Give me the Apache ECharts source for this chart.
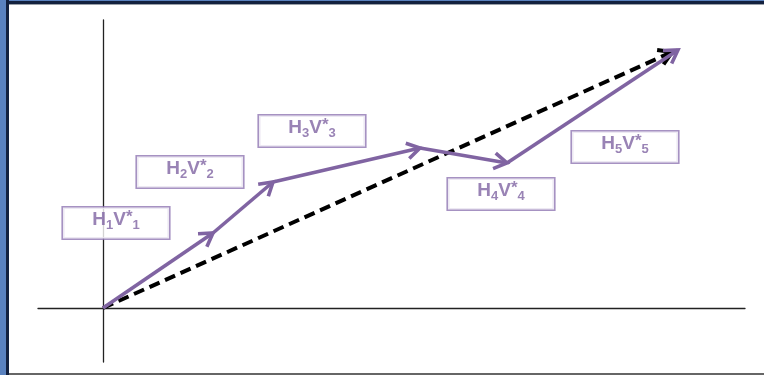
<!DOCTYPE html>
<html>
<head>
<meta charset="utf-8">
<script src="https://cdn.jsdelivr.net/npm/echarts@6/dist/echarts.min.js"></script>
<style>
  html, body { margin: 0; padding: 0; background: #fff; }
  #chart { width: 764px; height: 375px; }
</style>
</head>
<body>
<div id="chart"></div>
<script>
// path of the added vectors (origin first), units = px offsets from origin
const pathX = [0, 110, 170, 317, 404, 575];
const pathY = [0, 75, 126, 160, 145, 258];
// resultant (dashed) vector
const resultX = [0, 569];
const resultY = [0, 256];
// label boxes
const labelIdx = ['1', '2', '3', '4', '5'];
const labelX = [13, 87, 209, 398, 522];
const labelY = [85, 136, 177, 114, 161];

const purple = '#8064a2';

let segs = [];
for (let i = 0; i < pathX.length - 1; i++) {
  segs.push([pathX[i], pathY[i], pathX[i + 1], pathY[i + 1]]);
}

function arrowRender(color, width, dash) {
  return function (params, api) {
    const a = api.coord([api.value(0), api.value(1)]);
    const b = api.coord([api.value(2), api.value(3)]);
    const ang = Math.atan2(b[1] - a[1], b[0] - a[0]);
    const L = 15, spread = 0.55;
    const p1 = [b[0] - L * Math.cos(ang - spread), b[1] - L * Math.sin(ang - spread)];
    const p2 = [b[0] - L * Math.cos(ang + spread), b[1] - L * Math.sin(ang + spread)];
    return {
      type: 'group',
      children: [
        {
          type: 'line',
          shape: { x1: a[0], y1: a[1], x2: b[0], y2: b[1] },
          style: { stroke: color, lineWidth: width, lineDash: dash }
        },
        {
          type: 'polyline',
          shape: { points: [p1, b, p2] },
          style: { stroke: color, lineWidth: width, fill: null, lineJoin: 'miter' }
        }
      ]
    };
  };
}

const chart = echarts.init(document.getElementById('chart'));
chart.setOption({
  animation: false,
  backgroundColor: '#fff',
  grid: { left: 38, right: 19, top: 20, bottom: 13 },
  xAxis: {
    type: 'value', min: -65, max: 642,
    axisLine: { onZero: true, lineStyle: { color: '#222', width: 1.3 } },
    axisTick: { show: false }, axisLabel: { show: false }, splitLine: { show: false }
  },
  yAxis: {
    type: 'value', min: -54, max: 288,
    axisLine: { show: true, onZero: true, lineStyle: { color: '#222', width: 1.3 } },
    axisTick: { show: false }, axisLabel: { show: false }, splitLine: { show: false }
  },
  graphic: [
    { type: 'rect', shape: { x: 0, y: 0, width: 764, height: 5 }, style: { fill: '#13213f' }, z: 100 },
    { type: 'rect', shape: { x: 0, y: 0, width: 764, height: 1 }, style: { fill: '#5a82bf' }, z: 101 },
    { type: 'rect', shape: { x: 0, y: 4, width: 764, height: 1 }, style: { fill: '#9aa0a8' }, z: 101 },
    { type: 'rect', shape: { x: 0, y: 0, width: 9, height: 375 }, style: { fill: '#13213f' }, z: 102 },
    { type: 'rect', shape: { x: 0, y: 0, width: 6, height: 375 }, style: { fill: '#5a82bf' }, z: 103 },
    { type: 'rect', shape: { x: 9, y: 373, width: 755, height: 2 }, style: { fill: '#666' }, z: 101 }
  ],
  series: [
    {
      type: 'custom',
      renderItem: arrowRender('#000', 4, [11, 6]),
      data: [[resultX[0], resultY[0], resultX[1], resultY[1]]],
      z: 2
    },
    {
      type: 'custom',
      renderItem: arrowRender(purple, 3.6, null),
      data: segs,
      z: 3
    },
    {
      type: 'scatter',
      symbolSize: 0,
      data: labelX.map((x, i) => [x, labelY[i], labelIdx[i]]),
      z: 4,
      label: {
        show: true,
        position: 'inside',
        backgroundColor: '#fff',
        borderColor: '#9077b3',
        borderWidth: 1.6,
        width: 106,
        height: 31,
        align: 'center',
        verticalAlign: 'middle',
        lineHeight: 31,
        formatter: function (p) {
          const n = p.data[2];
          return '{b|H}{s|' + n + '}{b|V}{u|*}{s|' + n + '}';
        },
        rich: {
          b: { fontFamily: 'Liberation Sans', fontWeight: 'bold', fontSize: 19, color: purple, height: 31, lineHeight: 24, verticalAlign: 'middle' },
          s: { fontFamily: 'Liberation Sans', fontWeight: 'bold', fontSize: 13, color: purple, padding: [11, 0, 0, 0], lineHeight: 20 },
          u: { fontFamily: 'Liberation Sans', fontWeight: 'bold', fontSize: 17, color: purple, padding: [0, 0, 5, 0], lineHeight: 20 }
        }
      }
    }
  ]
});
</script>
</body>
</html>
